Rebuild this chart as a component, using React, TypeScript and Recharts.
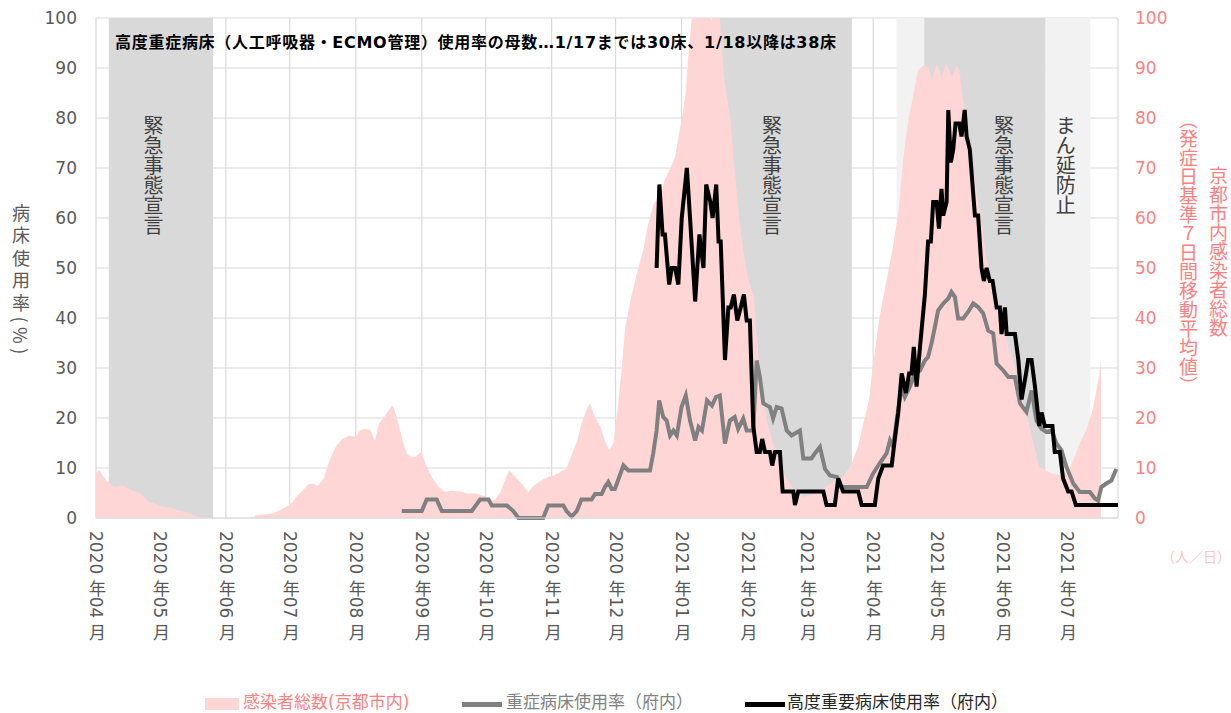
import React from "react";
import {
  ComposedChart,
  Area,
  Line,
  XAxis,
  YAxis,
  CartesianGrid,
  ReferenceArea,
  ReferenceLine,
} from "recharts";

const FONT = "'DejaVu Sans', 'Noto Sans CJK JP', sans-serif";
const JP = "'Noto Sans CJK JP', sans-serif";

// ─── Data (x = days since 2020-04-01) ─────────────────────────────────────────

const monthTicks = [0, 30, 61, 91, 122, 153, 183, 214, 244, 275, 306, 334, 365, 395, 426, 456];
const monthLabels = [
  "2020 年04 月", "2020 年05 月", "2020 年06 月", "2020 年07 月",
  "2020 年08 月", "2020 年09 月", "2020 年10 月", "2020 年11 月",
  "2020 年12 月", "2021 年01 月", "2021 年02 月", "2021 年03 月",
  "2021 年04 月", "2021 年05 月", "2021 年06 月", "2021 年07 月",
];
const valueTicks = [0, 10, 20, 30, 40, 50, 60, 70, 80, 90, 100];

// 感染者総数(京都市内) 7日間移動平均
const caseDays = [
  0, 1, 2, 3, 5, 7, 9, 12, 14, 17, 21, 23, 25, 29, 32, 36, 39, 43, 46, 49, 51,
  74, 75, 83, 86, 90, 92, 94, 97, 100, 102, 104, 107, 108, 111, 113, 116, 119,
  122, 124, 126, 129, 131, 133, 135, 137, 139, 140, 142, 144, 146, 148, 150, 152,
  153, 155, 158, 161, 164, 167, 171, 174, 179, 183, 187, 190, 192, 194, 197, 200,
  203, 205, 208, 212, 215, 218, 221, 223, 226, 228, 230, 232, 234, 237, 239, 241,
  243, 245, 247, 248.5, 251, 254, 257, 259, 262, 265, 267, 270, 272, 273, 275,
  277, 278, 280, 283, 285, 287, 289, 291, 293, 295, 298, 300, 302, 304, 306, 309,
  310, 313, 315, 318, 321, 324, 327, 332, 338, 345, 351, 355, 358, 360, 363, 365,
  368, 371, 374, 377, 379, 381.5, 384, 386, 388.5, 391, 392.5, 395, 397, 399.5,
  402, 404, 405.5, 407, 409, 411, 413.5, 416, 418, 421, 424.5, 427.5, 431, 434,
  437, 440, 443, 446, 449, 453, 457, 462, 465, 468, 470.5, 472,
];
const caseValues = [
  8.9, 9.5, 9.5, 8.5, 7.5, 6.8, 6.2, 6.5, 6.2, 5.5, 4.9, 4.0, 3.2, 2.7, 2.2, 2.0, 1.5, 1.0, 0.5, 0.2, 0,
  0, 0.6, 0.9, 1.5, 2.4, 3.0, 4.2, 5.5, 6.8, 6.9, 6.4, 7.9, 9.5, 12.9, 14.5, 15.9, 16.5,
  16.2, 17.5, 17.9, 17.5, 15.5, 19.0, 20.0, 21.2, 22.5, 22.0, 18.9, 15.5, 12.8, 12.3, 12.2, 13.0,
  13.2, 10.5, 8.0, 6.2, 5.2, 5.5, 5.3, 4.9, 4.9, 4.3, 3.5, 5.2, 7.5, 9.5, 8.2, 6.9,
  5.2, 6.2, 7.2, 8.2, 8.5, 9.2, 9.9, 12.2, 15.5, 18.9, 21.2, 23.0, 20.5, 18.2, 15.5, 13.5,
  14.9, 22.0, 30.2, 38.0, 43.5, 48.9, 53.5, 58.2, 62.9, 64.2, 67.5, 70.2, 72.2, 74.9, 79.5,
  85.0, 91.5, 101, 104, 100, 103, 99.5, 102, 100, 88.2, 79.5, 69.5, 60.2, 53.5, 48.2, 44.2,
  37.5, 25.5, 19.5, 14.9, 10.9, 8.2, 6.2, 4.2, 4.9, 6.9, 8.2, 10.9, 14.5, 18.2, 23.5, 30.9,
  40.2, 46.9, 53.5, 61.5, 71.5, 79.5, 84.9, 89.5, 90.5, 90.2, 87.5, 90.9, 88.2, 90.9,
  88.2, 90.5, 89.5, 84.2, 78.9, 72.9, 65.5, 58.9, 52.2, 46.9, 41.5, 36.2, 30.9, 25.5,
  20.9, 15.5, 10.2, 9.5, 8.9, 8.5, 9.5, 14.9, 17.5, 21.5, 26.9, 31.5,
];

// 重症病床使用率（府内）
const severeDays = [
  143.6, 153, 155.3, 160, 162.4, 176.5, 180.4, 184.3, 185.9, 193, 196, 198.4, 210,
  212.4, 219.5, 221, 223.4, 225.8, 228, 232.8, 234.4, 237.5, 239, 240.6, 242.2, 243.7,
  247.7, 250, 260.2, 261.7, 263.3, 264.5, 266.4, 268, 269.6, 271.2, 272.8, 275, 277,
  279, 281.4, 283, 284.6, 287, 289.3, 291.2, 293, 295.4, 297.7, 300, 301.6, 304, 305.6,
  308.7, 310.3, 311.8, 313.4, 316.5, 318, 319.7, 322, 324.4, 326.7, 330.6, 332.2, 336,
  337.6, 340, 342.4, 344.7, 348, 350, 362, 365, 368, 371.3, 372.9, 374.4, 376, 378.4,
  379.9, 382.2, 384.6, 387, 389.3, 390.8, 392.4, 394, 395.5, 397.9, 400.3, 401.8,
  403.4, 404.9, 407.3, 409.6, 412, 414.3, 416.7, 419, 421.4, 423, 426.1, 428.5, 431.6,
  434, 437, 439.4, 441.7, 444, 446.4, 448.8, 451.1, 453.5, 455.8, 459, 462, 466.8,
  469.1, 470.6, 472.2, 474.5, 476.9, 479.2,
];
const severeValues = [
  1.4, 1.4, 3.7, 3.7, 1.4, 1.4, 3.7, 3.7, 2.5, 2.5, 1.4, 0, 0,
  2.5, 2.5, 1.4, 0.3, 1.4, 3.7, 3.7, 4.8, 4.8, 6.2, 7.2, 5.8, 5.8,
  10.5, 9.5, 9.5, 12.9, 17.5, 23.5, 20.2, 19.5, 16.5, 17.5, 16.5, 22.2, 24.5,
  19.5, 15.5, 18.2, 17.5, 23.5, 22.5, 24.2, 24.5, 14.9, 19.5, 20.2, 17.8, 19.9, 17.5,
  17.5, 31.5, 28.2, 22.9, 22.2, 19.9, 22.2, 21.9, 17.5, 16.5, 17.5, 11.9, 11.9,
  12.9, 14.2, 9.8, 8.5, 8.2, 6.2, 6.2, 8.9, 10.9, 12.9, 15.5, 14.2, 19.5, 26.2,
  24.2, 26.2, 28.9, 29.5, 31.5, 32.2, 34.9, 38.2, 41.5, 42.9, 43.9, 45.2,
  44.2, 39.9, 39.9, 41.2, 42.9, 42.2, 40.9, 37.5, 36.9, 30.9, 29.5, 28.2, 28.2,
  22.9, 21.2, 25.5, 19.5, 17.9, 17.2, 17.5, 14.9, 13.5, 10.2, 6.9, 5.2, 5.2,
  3.9, 3.5, 6.2, 6.9, 7.5, 9.8,
];

// 高度重要病床使用率（府内）
const highDays = [
  263.3, 264.6, 266.1, 267.2, 269.2, 270.4, 272, 273.5, 275.1, 277.5, 279, 281.4,
  283.4, 285.3, 286.6, 288.5, 289.6, 291.3, 292.4, 293.4, 295.4, 297, 298.1, 299.6,
  301.2, 302.8, 304.3, 305.6, 307.1, 308.7, 310.3, 311.8, 312.9, 314.2, 316.5, 317.6,
  318.9, 321.2, 322.5, 327.5, 328.3, 329.8, 341.6, 343.1, 347, 348.6, 350.9, 358,
  359.6, 365.8, 367.4, 369.7, 373.7, 375.2, 376.8, 378.4, 380.4, 381.9, 383, 384.1,
  385.4, 387, 389.3, 390.8, 392.1, 393.2, 394.8, 395.9, 397.1, 397.9, 399.5, 400.3,
  401.5, 402.6, 403.7, 405.4, 406.5, 408, 408.9, 410.4, 412.8, 414.3, 415.9, 417,
  418.3, 419.8, 421.1, 423, 424.5, 425.3, 426.9, 427.7, 431.6, 433.2, 434.7, 436.8,
  437.8, 439.4, 441, 443, 444.1, 445.6, 449.2, 450.3, 452.7, 454.2, 456.6, 458.2,
  460.2, 480,
];
const highValues = [
  50, 66.7, 56.7, 56.7, 46.7, 50, 50, 46.7, 60, 70, 60, 43.3,
  56.7, 50, 66.7, 63.3, 60, 66.7, 55.3, 55.3, 31.6, 42.1, 42.1, 44.7,
  39.5, 42.1, 44.7, 39.5, 39.5, 18.4, 13.2, 13.2, 15.8, 13.2, 13.2, 10.5,
  13.2, 13.2, 5.3, 5.3, 2.6, 5.3, 5.3, 2.6, 2.6, 7.9, 5.3, 5.3,
  2.6, 2.6, 7.9, 10.5, 10.5, 15.8, 21.1, 28.9, 25, 28.9, 28.9, 34.2,
  26.3, 34.2, 44.7, 55.3, 55.3, 63.2, 63.2, 57.9, 65.8, 60.5, 63.2, 81.6,
  71.1, 73.7, 78.9, 78.9, 76.3, 81.6, 76.3, 73.7, 60.5, 60.5, 50, 47.4,
  50, 47.4, 47.4, 42.1, 42.1, 36.8, 42.1, 36.8, 36.8, 31.6, 23.7, 28.9,
  31.6, 31.6, 26.3, 18.4, 21.1, 18.4, 18.4, 13.2, 13.2, 7.9, 5.3, 5.3,
  2.6, 2.6,
];

// 緊急事態宣言 / まん延防止等重点措置 の期間
const bandStarts = [6, 293, 376, 389, 446];
const bandEnds = [55, 355, 389, 446, 467];
const bandKinds = ["emergency", "emergency", "priority", "emergency", "priority"];
const noteDays = [27, 317.5, 426.5, 455.5];
const noteTexts = ["緊急事態宣言", "緊急事態宣言", "緊急事態宣言", "まん延防止"];

const caseData = caseDays.map((d, i) => ({ d, v: caseValues[i] }));
const severeData = severeDays.map((d, i) => ({ d, v: severeValues[i] }));
const highData = highDays.map((d, i) => ({ d, v: highValues[i] }));

// ─── Custom pieces ────────────────────────────────────────────────────────────

function MonthTick(props: any) {
  const { x, y, payload } = props;
  const i = monthTicks.indexOf(payload.value);
  return (
    <text
      x={x}
      y={y + 11}
      fill="#595959"
      fontSize={17}
      fontFamily={FONT}
      style={{ writingMode: "vertical-rl" }}
    >
      {monthLabels[i]}
    </text>
  );
}

function BandNote(props: any) {
  const { viewBox, text } = props;
  return (
    <text
      x={viewBox.x}
      y={viewBox.y + 97}
      fill="#404040"
      fontSize={20}
      fontFamily={JP}
      style={{ writingMode: "vertical-rl" }}
    >
      {text}
    </text>
  );
}

const abs = (s: React.CSSProperties): React.CSSProperties => ({
  position: "absolute",
  whiteSpace: "nowrap",
  ...s,
});

export default function App() {
  return (
    <div style={{ position: "absolute", left: 0, top: 0, width: 1231, height: 713, background: "#fff", fontFamily: FONT }}>
      <ComposedChart width={1231} height={713} margin={{ top: 18, right: 0, bottom: 0, left: 0 }}>
        <CartesianGrid yAxisId="left" stroke="#d9d9d9" strokeWidth={1.2} />
        <XAxis
          dataKey="d"
          type="number"
          domain={[0, 480]}
          ticks={monthTicks}
          interval={0}
          height={195}
          tick={<MonthTick />}
          tickLine={false}
          tickSize={0}
          axisLine={{ stroke: "#d9d9d9", strokeWidth: 1.2 }}
        />
        <YAxis
          yAxisId="left"
          domain={[0, 100]}
          ticks={valueTicks}
          width={96}
          axisLine={false}
          tickLine={false}
          tickSize={0}
          tickMargin={19}
          tick={{ fill: "#595959", fontSize: 17, fontFamily: FONT }}
        />
        <YAxis
          yAxisId="right"
          orientation="right"
          domain={[0, 100]}
          allowDataOverflow
          ticks={valueTicks}
          width={113}
          axisLine={false}
          tickLine={false}
          tickSize={0}
          tickMargin={17}
          tick={{ fill: "#ff8080", fontSize: 17, fontFamily: FONT, textAnchor: "start" }}
        />

        {bandStarts.map((s, i) => (
          <ReferenceArea
            key={`band-${i}`}
            yAxisId="left"
            x1={s}
            x2={bandEnds[i]}
            y1={0}
            y2={100}
            fill={bandKinds[i] === "emergency" ? "#d9d9d9" : "#f2f2f2"}
            fillOpacity={1}
            stroke="none"
            zIndex={-50}
          />
        ))}

        <Area
          yAxisId="right"
          data={caseData}
          dataKey="v"
          type="linear"
          fill="#ffd6d6"
          fillOpacity={1}
          stroke="none"
          isAnimationActive={false}
        />
        <Line
          yAxisId="left"
          data={severeData}
          dataKey="v"
          type="linear"
          stroke="#808080"
          strokeWidth={4}
          dot={false}
          isAnimationActive={false}
        />
        <Line
          yAxisId="left"
          data={highData}
          dataKey="v"
          type="linear"
          stroke="#000000"
          strokeWidth={4}
          dot={false}
          isAnimationActive={false}
        />

        {noteDays.map((d, i) => (
          <ReferenceLine
            key={`note-${i}`}
            yAxisId="left"
            x={d}
            stroke="none"
            label={<BandNote text={noteTexts[i]} />}
          />
        ))}
      </ComposedChart>

      {/* Annotation */}
      <div style={abs({ left: 115, top: 29, fontSize: 16, fontWeight: 700, color: "#000", letterSpacing: 0.72 })}>
        高度重症病床（人工呼吸器・ECMO管理）使用率の母数…1/17までは30床、1/18以降は38床
      </div>

      {/* Axis titles */}
      <div style={abs({ left: 12, top: 204, fontSize: 18, lineHeight: "18px", color: "#595959", writingMode: "vertical-rl", letterSpacing: 4.5, fontFamily: JP })}>
        病床使用率(%)
      </div>
      <div style={abs({ left: 1209, top: 166, fontSize: 19, lineHeight: "19px", color: "#ff8080", writingMode: "vertical-rl", fontFamily: JP })}>
        京都市内感染者総数
      </div>
      <div style={abs({ left: 1179, top: 110, fontSize: 19, lineHeight: "19px", color: "#ff8080", writingMode: "vertical-rl", fontFamily: JP })}>
        （発症日基準７日間移動平均値）
      </div>
      <div style={abs({ left: 1161, top: 546, fontSize: 14, color: "#ffc4c4", fontFamily: JP })}>
        （人／日）
      </div>

      {/* Legend */}
      <div style={abs({ left: 205, top: 698, width: 34, height: 12, background: "#ffd6d6" })} />
      <div style={abs({ left: 243, top: 693, fontSize: 17, lineHeight: "19px", color: "#ff8080" })}>
        感染者総数(京都市内)
      </div>
      <div style={abs({ left: 462, top: 702, width: 40, height: 4.5, background: "#808080" })} />
      <div style={abs({ left: 506, top: 693, fontSize: 17, lineHeight: "19px", color: "#808080" })}>
        重症病床使用率（府内）
      </div>
      <div style={abs({ left: 745, top: 702, width: 40, height: 4.5, background: "#000" })} />
      <div style={abs({ left: 787, top: 693, fontSize: 17, lineHeight: "19px", color: "#262626" })}>
        高度重要病床使用率（府内）
      </div>
    </div>
  );
}
